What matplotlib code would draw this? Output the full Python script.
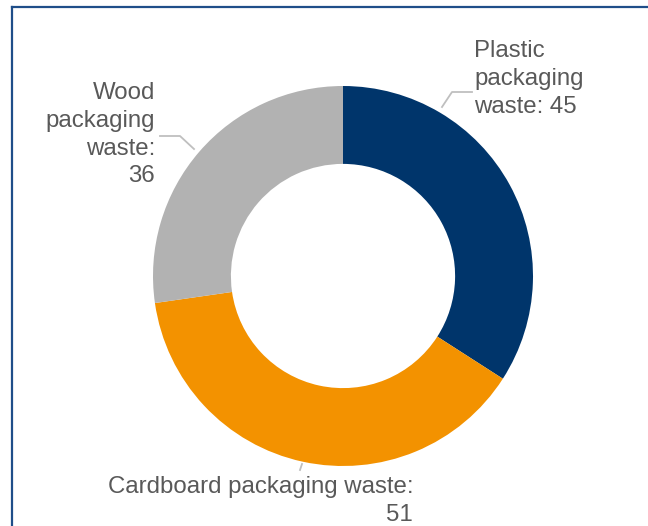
import matplotlib
matplotlib.use('Agg')

import matplotlib.pyplot as plt
from matplotlib.lines import Line2D

# Packaging waste by material
categories = ["Plastic packaging waste", "Cardboard packaging waste", "Wood packaging waste"]
values = [45, 51, 36]
colors = ["#00356B", "#F39200", "#B2B2B2"]

W, H = 648, 526
CX, CY, R = 343, 276, 190   # donut centre and outer radius, in pixels

plt.rcParams['font.family'] = ['Liberation Sans', 'DejaVu Sans']

fig = plt.figure(figsize=(W / 100, H / 100), dpi=100)
ax = fig.add_axes([(CX - R) / W, (H - CY - R) / H, 2 * R / W, 2 * R / H])

ax.pie(values, colors=colors, startangle=90, counterclock=False, radius=1,
       wedgeprops=dict(width=0.41, edgecolor='none'))
ax.set_xlim(-1, 1)
ax.set_ylim(-1, 1)
ax.set_aspect('equal')
ax.axis('off')


def px(x, y):
    # pixel position (origin top-left) -> axes data coords
    return (x - CX) / R, (CY - y) / R


text_kw = dict(fontsize=17.3, color='#595959', linespacing=1.34)
lead_kw = dict(color='#BFBFBF', lw=1.3, clip_on=False)

# Plastic label
x0, y0 = px(474, 40)
ax.text(x0, y0, "Plastic\npackaging\nwaste: " + str(values[0]), ha='left', va='top', **text_kw)
pts = [px(442, 107), px(452, 92), px(472, 92)]
ax.plot([p[0] for p in pts], [p[1] for p in pts], **lead_kw)

# Wood label
x0, y0 = px(155, 82)
ax.text(x0, y0, "Wood\npackaging\nwaste:\n" + str(values[2]), ha='right', va='top', **text_kw)
pts = [px(160, 136), px(180, 136), px(194, 149)]
ax.plot([p[0] for p in pts], [p[1] for p in pts], **lead_kw)

# Cardboard label
x0, y0 = px(413, 476)
ax.text(x0, y0, "Cardboard packaging waste:\n" + str(values[1]), ha='right', va='top', **text_kw)
pts = [px(300, 470), px(302, 464)]
ax.plot([p[0] for p in pts], [p[1] for p in pts], **lead_kw)

# frame (left and top edges only visible)
frame_color = '#1F4E89'
fig.add_artist(Line2D([11.5 / W, 11.5 / W], [0, 1 - 6.5 / H], color=frame_color, lw=1.6,
                      transform=fig.transFigure))
fig.add_artist(Line2D([11.5 / W, 1], [1 - 6.5 / H, 1 - 6.5 / H], color=frame_color, lw=1.6,
                      transform=fig.transFigure))

fig.savefig("out.png", dpi=100)
plt.close(fig)
